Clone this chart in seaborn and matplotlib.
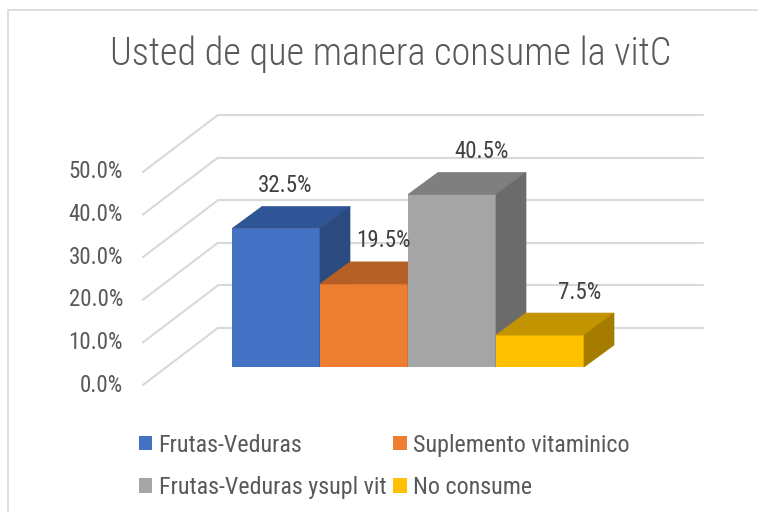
"""
Excel-style 3D column chart: forma de consumo de vitamina C.
Front faces come from seaborn's barplot; top/side faces and the
back wall grid are added from the bar geometry.
"""

import matplotlib

matplotlib.use("Agg")
import matplotlib.pyplot as plt
import pandas as pd
import seaborn as sns
from matplotlib.lines import Line2D
from matplotlib.patches import Patch, Polygon

# --- data ------------------------------------------------------------------ #
TITLE = "Usted de que manera consume la vitC"
SERIES = ["Frutas-Veduras", "Suplemento vitaminico", "Frutas-Veduras ysupl vit", "No consume"]
VALUES = [32.5, 19.5, 40.5, 7.5]
Y_TICKS = [0, 10, 20, 30, 40, 50]

FRONT = ["#4472C4", "#ED7D31", "#A5A5A5", "#FFC000"]
TOP = ["#2F5597", "#B55F24", "#7F7F7F", "#C49300"]
SIDE = ["#2B4A80", "#A3551F", "#6B6B6B", "#A67C00"]

# --- layout (pixels of the 758x512 canvas) -------------------------------- #
W, H, DPI = 758, 512, 100
PX_PER_PCT = 4.26  # vertical scale
PX_PER_CAT = 440  # one category unit (bars are 0.2 wide)
FLOOR_PX, CENTER_PX = 367, 408
BAR_DX, BAR_DY = 30 / PX_PER_CAT, 22 / PX_PER_PCT  # bar depth
FRONT_DX, FRONT_DY = -24 / PX_PER_CAT, -18 / PX_PER_PCT  # label plane
BACK_DX, BACK_DY = 51 / PX_PER_CAT, 39 / PX_PER_PCT  # back wall
WALL_L, WALL_R = -0.548, 0.555

FONT = ["Roboto Condensed", "DejaVu Sans"]
TXT = "#595959"
GRID = "#D9D9D9"

sns.set_theme(style="white")
plt.rcParams["font.family"] = FONT

fig = plt.figure(figsize=(W / DPI, H / DPI), dpi=DPI)
ax = fig.add_axes([0, 0, 1, 1])

# chart border (only top/left edges fall inside the picture)
fig.add_artist(Line2D([8 / W, 8 / W], [0, 1 - 10 / H], color=GRID, lw=1.2))
fig.add_artist(Line2D([8 / W, 1], [1 - 10 / H, 1 - 10 / H], color=GRID, lw=1.2))

# --- bars ------------------------------------------------------------------ #
df = pd.DataFrame({"grupo": ["vitC"] * len(SERIES), "forma": SERIES, "pct": VALUES})
sns.barplot(data=df, x="grupo", y="pct", hue="forma", hue_order=SERIES,
            palette=FRONT, saturation=1, width=0.8, legend=False, errorbar=None,
            linewidth=0, ax=ax)
ax.set_xlim(-CENTER_PX / PX_PER_CAT, (W - CENTER_PX) / PX_PER_CAT)
ax.set_ylim((FLOOR_PX - H) / PX_PER_PCT, FLOOR_PX / PX_PER_PCT)
ax.axis("off")

# --- back wall + left wall gridlines -------------------------------------- #
for t in Y_TICKS:
    yb = t + BACK_DY
    ax.plot([WALL_L + BACK_DX, WALL_R + BACK_DX], [yb, yb], color=GRID, lw=1.5, zorder=1)
    ax.plot([WALL_L + FRONT_DX, WALL_L + BACK_DX], [t + FRONT_DY, yb], color=GRID, lw=1.5, zorder=1)
    ax.text(WALL_L + FRONT_DX - 20 / PX_PER_CAT, t + FRONT_DY, f"{t:.1f}%",
            ha="right", va="center", fontsize=16.5, color=TXT)

bars = sorted(ax.patches, key=lambda p: p.get_x())
for i, (bar, val) in enumerate(zip(bars, VALUES)):
    x0, w, h = bar.get_x(), bar.get_width(), bar.get_height()
    x1 = x0 + w
    bar.set_zorder(10 + 3 * i)
    top = [(x0, h), (x1, h), (x1 + BAR_DX, h + BAR_DY), (x0 + BAR_DX, h + BAR_DY)]
    side = [(x1, 0), (x1, h), (x1 + BAR_DX, h + BAR_DY), (x1 + BAR_DX, BAR_DY)]
    ax.add_patch(Polygon(top, closed=True, fc=TOP[i], ec=TOP[i], lw=0.5, zorder=11 + 3 * i))
    ax.add_patch(Polygon(side, closed=True, fc=SIDE[i], ec=SIDE[i], lw=0.5, zorder=12 + 3 * i))
    # data label: a little above the back edge of the top face
    xc = x0 + w / 2
    shift = 0.117 * (xc * PX_PER_CAT + CENTER_PX - 199) / PX_PER_CAT
    ax.text(xc + shift, h + BAR_DY + 21 / PX_PER_PCT, f"{val:.1f}%",
            ha="center", va="center", fontsize=16.5, color="#404040", zorder=30)

# --- title + legend -------------------------------------------------------- #
fig.text(391 / W, 1 - 65 / H, TITLE, ha="center", va="baseline",
         fontsize=27.5, fontweight="light", color=TXT)

order = [0, 2, 1, 3]
handles = [Patch(fc=FRONT[k], ec="none") for k in order]
labels = [SERIES[k] for k in order]
leg = fig.legend(handles, labels, ncol=2, loc="upper left",
                 bbox_to_anchor=(117 / W, 1 - 412 / H), frameon=False,
                 fontsize=17.3, labelcolor=TXT, handlelength=0.56, handleheight=0.56,
                 handletextpad=0.27, columnspacing=0.3, labelspacing=0.8)

fig.savefig("out.png", dpi=DPI)
